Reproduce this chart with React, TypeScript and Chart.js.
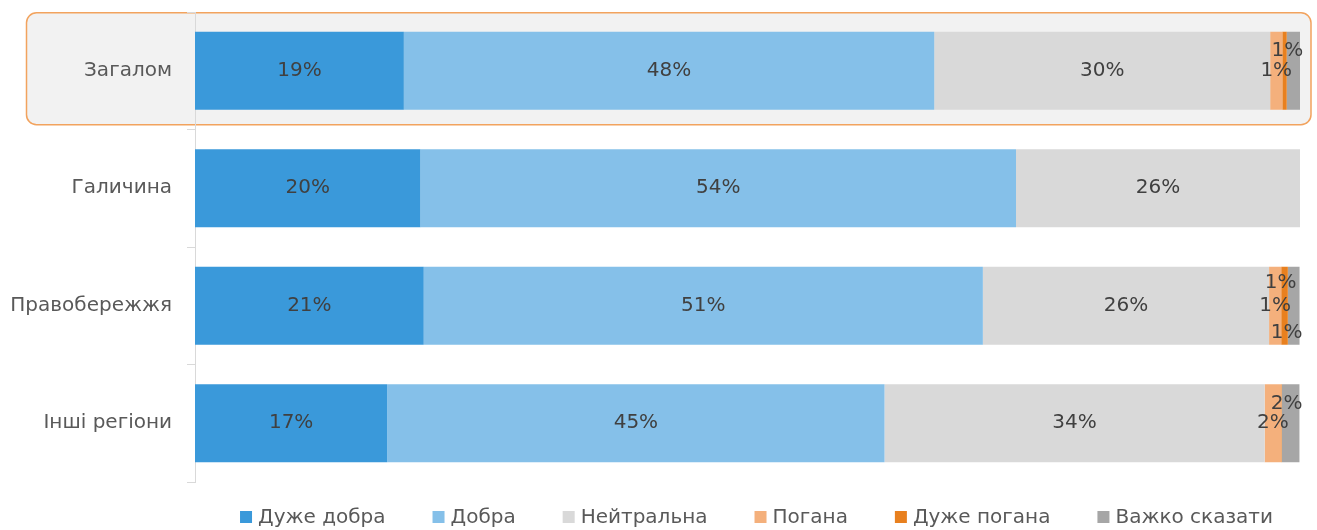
import React, { useEffect, useRef } from "react";
import { Chart, registerables } from "chart.js";

Chart.register(...registerables);

// ---- data ----
const categories = ["Загалом", "Галичина", "Правобережжя", "Інші регіони"];
const seriesNames = ["Дуже добра", "Добра", "Нейтральна", "Погана", "Дуже погана", "Важко сказати"];
const veryGood = [18.9, 20.4, 20.7, 17.4];
const good = [48.0, 53.9, 50.6, 45.0];
const neutral = [30.4, 25.7, 25.9, 34.4];
const bad = [1.1, 0, 1.1, 1.5];
const veryBad = [0.4, 0, 0.6, 0.05];
const hardToSay = [1.2, 0, 1.06, 1.6];
const xMax = 100;

// ---- styles ----
const seriesColors = ["#3a99da", "#85c0e9", "#d9d9d9", "#f4b07c", "#e8801f", "#a6a6a6"];
const FONT = "'DejaVu Sans', Verdana, Tahoma, sans-serif";
// label nudges for crowded small segments: key "dataset-category" -> [dx, dy]
const labelNudges: Record<string, [number, number]> = {
  "5-0": [-6, -20],
  "4-2": [-4, -23],
  "5-2": [-7, 27],
  "5-3": [-4, -19],
};

const highlightPlugin = {
  id: "highlightRow",
  beforeDraw(chart: any) {
    const bar = chart.getDatasetMeta(0).data[0];
    if (!bar) return;
    const ctx = chart.ctx;
    const top = bar.y - bar.height / 2 - 19;
    const bottom = bar.y + bar.height / 2 + 15;
    const left = 26.5;
    const right = chart.chartArea.right + 11;
    ctx.save();
    ctx.beginPath();
    ctx.roundRect(left, top, right - left, bottom - top, 10);
    ctx.fillStyle = "#f2f2f2";
    ctx.fill();
    ctx.lineWidth = 1.5;
    ctx.strokeStyle = "#f2a35e";
    ctx.stroke();
    ctx.restore();
  },
};

const dataLabelPlugin = {
  id: "segLabels",
  afterDatasetsDraw(chart: any) {
    const ctx = chart.ctx;
    ctx.save();
    ctx.font = `20px ${FONT}`;
    ctx.fillStyle = "#404040";
    ctx.textAlign = "center";
    ctx.textBaseline = "middle";
    chart.data.datasets.forEach((ds: any, di: number) => {
      const meta = chart.getDatasetMeta(di);
      meta.data.forEach((bar: any, ci: number) => {
        const v = ds.data[ci];
        const r = Math.round(v);
        if (r < 1) return;
        const n = labelNudges[`${di}-${ci}`] || [0, 0];
        const x = (bar.x + bar.base) / 2 + n[0];
        const y = bar.y + n[1];
        ctx.fillText(`${r}%`, x, y);
      });
    });
    ctx.restore();
  },
};

const legendPlugin = {
  id: "bottomLegend",
  afterDraw(chart: any) {
    const ctx = chart.ctx;
    ctx.save();
    ctx.font = `20px ${FONT}`;
    ctx.textBaseline = "middle";
    ctx.textAlign = "left";
    const box = 12, gap = 6, spacing = 47;
    const items = chart.data.datasets.map((ds: any) => ({
      text: ds.label,
      color: ds.backgroundColor,
      w: ctx.measureText(ds.label).width,
    }));
    const total = items.reduce((s: number, it: any) => s + box + gap + it.w, 0) + spacing * (items.length - 1);
    let x = 756.5 - total / 2;
    const y = 517;
    items.forEach((it: any) => {
      ctx.fillStyle = it.color;
      ctx.fillRect(x, y - box / 2, box, box);
      ctx.fillStyle = "#595959";
      ctx.fillText(it.text, x + box + gap, y + 1);
      x += box + gap + it.w + spacing;
    });
    ctx.restore();
  },
};

export default function App() {
  const ref = useRef<HTMLCanvasElement | null>(null);
  useEffect(() => {
    document.body.style.margin = "0";
    const canvas = ref.current;
    if (!canvas) return;
    const series = [veryGood, good, neutral, bad, veryBad, hardToSay];
    const chart = new Chart(canvas, {
      type: "bar",
      data: {
        labels: categories,
        datasets: series.map((d, i) => ({
          label: seriesNames[i],
          data: d,
          backgroundColor: seriesColors[i],
          borderWidth: 0,
          barPercentage: 0.664,
          categoryPercentage: 1,
        })),
      },
      options: {
        indexAxis: "y",
        responsive: false,
        animation: false,
        layout: { padding: { top: 12, right: 17, bottom: 48, left: 0 } },
        scales: {
          x: { stacked: true, display: false, min: 0, max: xMax },
          y: {
            stacked: true,
            grid: { drawOnChartArea: false, drawTicks: true, tickLength: 8, color: "#d9d9d9", offset: true },
            border: { color: "#d9d9d9", width: 1 },
            ticks: { color: "#595959", font: { family: FONT, size: 20 }, padding: 15 },
            afterFit: (s: any) => {
              s.width = 195;
              s.paddingTop = 0;
              s.paddingBottom = 0;
            },
          },
        },
        plugins: { legend: { display: false }, tooltip: { enabled: false } },
      },
      plugins: [highlightPlugin, dataLabelPlugin, legendPlugin],
    } as any);
    return () => chart.destroy();
  }, []);
  return (
    <div style={{ position: "absolute", left: 0, top: 0, width: 1317, height: 530 }}>
      <canvas ref={ref} width={1317} height={530} style={{ display: "block", width: 1317, height: 530 }} />
    </div>
  );
}
